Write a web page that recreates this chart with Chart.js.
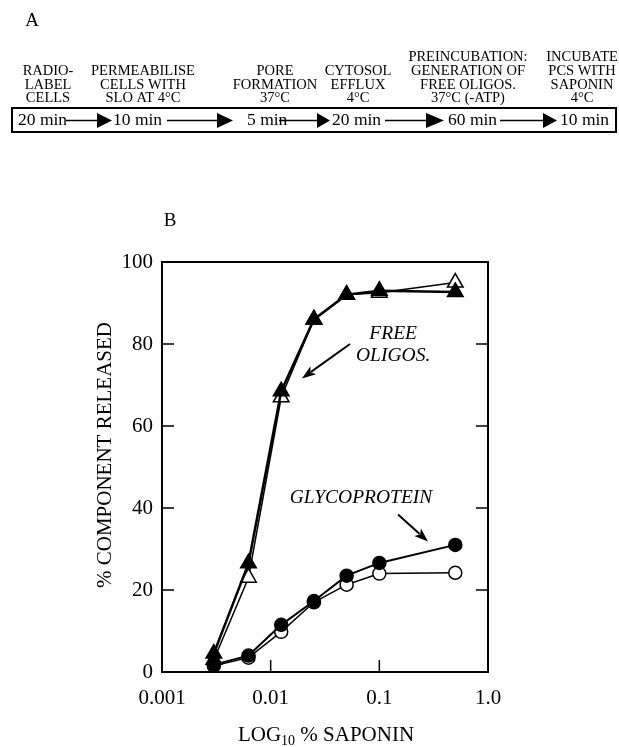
<!DOCTYPE html>
<html>
<head>
<meta charset="utf-8">
<script src="https://cdn.jsdelivr.net/npm/chart.js@4.4.1/dist/chart.umd.min.js"></script>
<style>
html, body { margin: 0; padding: 0; background: #fff; }
canvas { display: block; }
</style>
</head>
<body>
<canvas id="plot" width="619" height="747"></canvas>
<script>
// saponin concentration (%), x axis is log scale
const saponin = [0.003, 0.00625, 0.0125, 0.025, 0.05, 0.1, 0.5];
const oligosFilled = [4.5, 26.5, 68.5, 86, 92, 93, 92.7];
const oligosOpen = [3, 23, 67, 86, 92, 92.5, 95];
const glycoFilled = [1.8, 4, 11.5, 17.3, 23.5, 26.6, 31];
const glycoOpen = [1.5, 3.5, 9.8, 17, 21.3, 24, 24.2];
const xTickValues = [0.001, 0.01, 0.1, 1];
const xTickLabels = ['0.001', '0.01', '0.1', '1.0'];

// panel A protocol steps
const stepHeads = [
    ['RADIO-', 'LABEL', 'CELLS'],
    ['PERMEABILISE', 'CELLS WITH', 'SLO AT 4\u00B0C'],
    ['PORE', 'FORMATION', '37\u00B0C'],
    ['CYTOSOL', 'EFFLUX', '4\u00B0C'],
    ['PREINCUBATION:', 'GENERATION OF', 'FREE OLIGOS.', '37\u00B0C (-ATP)'],
    ['INCUBATE', 'PCS WITH', 'SAPONIN', '4\u00B0C']
];
const stepTimes = ['20 min', '10 min', '5 min', '20 min', '60 min', '10 min'];

const serif = '"Liberation Serif", "Times New Roman", serif';

const pts = (ys) => saponin.map((x, i) => ({ x: x, y: ys[i] }));

function arrow(ctx, x1, y1, x2, y2, len, w) {
    const a = Math.atan2(y2 - y1, x2 - x1);
    ctx.beginPath();
    ctx.moveTo(x1, y1);
    ctx.lineTo(x2 - Math.cos(a) * len * 0.8, y2 - Math.sin(a) * len * 0.8);
    ctx.stroke();
    ctx.beginPath();
    ctx.moveTo(x2, y2);
    ctx.lineTo(x2 - Math.cos(a) * len - Math.sin(a) * w, y2 - Math.sin(a) * len + Math.cos(a) * w);
    ctx.lineTo(x2 - Math.cos(a) * len * 0.75, y2 - Math.sin(a) * len * 0.75);
    ctx.lineTo(x2 - Math.cos(a) * len + Math.sin(a) * w, y2 - Math.sin(a) * len - Math.cos(a) * w);
    ctx.closePath();
    ctx.fill();
}

const panelA = {
    id: 'panelA',
    afterDraw(chart) {
        const ctx = chart.ctx;
        ctx.save();
        ctx.fillStyle = '#000';
        ctx.strokeStyle = '#000';
        ctx.textAlign = 'center';
        ctx.textBaseline = 'middle';
        ctx.font = '19px ' + serif;
        ctx.fillText('A', 32, 21);

        const centers = [48, 143, 275, 358, 468, 582];
        ctx.font = '14.5px ' + serif;
        stepHeads.forEach((lines, i) => {
            const rowY = [98.5, 84.7, 71, 57];
            lines.slice().reverse().forEach((t, j) => ctx.fillText(t, centers[i], rowY[j]));
        });

        ctx.lineWidth = 2;
        ctx.strokeRect(12, 108, 604, 24);

        const starts = [18, 113, 247, 332, 448, 560];
        ctx.textAlign = 'left';
        ctx.font = '17.5px ' + serif;
        stepTimes.forEach((t, i) => ctx.fillText(t, starts[i], 120));

        const arrows = [[66, 97, 112], [167, 217, 233], [279, 317, 330], [385, 426, 444], [500, 543, 557]];
        ctx.lineWidth = 1.5;
        arrows.forEach(a => {
            ctx.beginPath();
            ctx.moveTo(a[0], 120.5);
            ctx.lineTo(a[1] + 1, 120.5);
            ctx.stroke();
            ctx.beginPath();
            ctx.moveTo(a[1], 113);
            ctx.lineTo(a[2], 120.5);
            ctx.lineTo(a[1], 128);
            ctx.closePath();
            ctx.fill();
        });
        ctx.restore();
    }
};

const frame = {
    id: 'frame',
    afterDraw(chart) {
        const ctx = chart.ctx;
        const area = chart.chartArea;
        const xs = chart.scales.x, ys = chart.scales.y;
        ctx.save();
        ctx.strokeStyle = '#000';
        ctx.fillStyle = '#000';
        ctx.lineWidth = 2;
        ctx.strokeRect(area.left, area.top, area.right - area.left, area.bottom - area.top);

        ctx.lineWidth = 1.5;
        ys.ticks.forEach(t => {
            if (t.value <= ys.min || t.value >= ys.max) return;
            const py = ys.getPixelForValue(t.value);
            ctx.beginPath();
            ctx.moveTo(area.left, py); ctx.lineTo(area.left + 12, py);
            ctx.moveTo(area.right, py); ctx.lineTo(area.right - 12, py);
            ctx.stroke();
        });
        xs.ticks.forEach(t => {
            if (t.value <= xs.min || t.value >= xs.max) return;
            const px = xs.getPixelForValue(t.value);
            ctx.beginPath();
            ctx.moveTo(px, area.bottom); ctx.lineTo(px, area.bottom - 12);
            ctx.stroke();
        });

        // annotations, placed in data units
        ctx.font = 'italic 19.5px ' + serif;
        ctx.textAlign = 'center';
        ctx.textBaseline = 'middle';
        ctx.fillText('FREE', xs.getPixelForValue(0.134), ys.getPixelForValue(82.4));
        ctx.fillText('OLIGOS.', xs.getPixelForValue(0.134), ys.getPixelForValue(77));
        ctx.fillText('GLYCOPROTEIN', xs.getPixelForValue(0.0678), ys.getPixelForValue(42.5));
        ctx.lineWidth = 2;
        arrow(ctx, xs.getPixelForValue(0.0537), ys.getPixelForValue(80),
            xs.getPixelForValue(0.0194), ys.getPixelForValue(71.6), 14, 5);
        arrow(ctx, xs.getPixelForValue(0.1486), ys.getPixelForValue(38.4),
            xs.getPixelForValue(0.2805), ys.getPixelForValue(31.8), 14, 5);

        // panel letter and axis titles
        ctx.font = '19px ' + serif;
        ctx.fillText('B', 170, 221);

        ctx.save();
        ctx.translate(105, 455);
        ctx.rotate(-Math.PI / 2);
        ctx.font = '21px ' + serif;
        ctx.fillText('% COMPONENT RELEASED', 0, 0);
        ctx.restore();

        const big = '21px ' + serif, small = '14px ' + serif;
        ctx.font = big;
        const w1 = ctx.measureText('LOG').width;
        const w3 = ctx.measureText(' % SAPONIN').width;
        ctx.font = small;
        const w2 = ctx.measureText('10').width;
        let x0 = 326 - (w1 + w2 + w3) / 2;
        ctx.textAlign = 'left';
        ctx.font = big;
        ctx.fillText('LOG', x0, 735);
        ctx.font = small;
        ctx.fillText('10', x0 + w1, 741);
        ctx.font = big;
        ctx.fillText(' % SAPONIN', x0 + w1 + w2, 735);
        ctx.restore();
    }
};

const tickFont = { family: serif, size: 21 };

const canvas = document.getElementById('plot');
const ctx = canvas.getContext('2d');

const config = {
    type: 'line',
    data: {
        datasets: [
            {
                label: 'free oligos (filled)', data: pts(oligosFilled),
                borderColor: '#000', backgroundColor: '#000', borderWidth: 2.5,
                pointStyle: 'triangle', pointRadius: 9, pointBorderWidth: 1.5,
                pointBackgroundColor: '#000', pointBorderColor: '#000'
            },
            {
                label: 'glycoprotein (filled)', data: pts(glycoFilled),
                borderColor: '#000', backgroundColor: '#000', borderWidth: 2,
                pointStyle: 'circle', pointRadius: 6.5, pointBorderWidth: 1.5,
                pointBackgroundColor: '#000', pointBorderColor: '#000'
            },
            {
                label: 'free oligos (open)', data: pts(oligosOpen),
                borderColor: '#000', backgroundColor: '#fff', borderWidth: 1.5,
                pointStyle: 'triangle', pointRadius: 9, pointBorderWidth: 1.5,
                pointBackgroundColor: '#fff', pointBorderColor: '#000'
            },
            {
                label: 'glycoprotein (open)', data: pts(glycoOpen),
                borderColor: '#000', backgroundColor: '#fff', borderWidth: 1.5,
                pointStyle: 'circle', pointRadius: 6.5, pointBorderWidth: 1.5,
                pointBackgroundColor: '#fff', pointBorderColor: '#000'
            }
        ]
    },
    options: {
        responsive: false,
        animation: false,
        layout: { padding: { left: 0, right: 131, top: 262, bottom: 0 } },
        elements: { line: { tension: 0 } },
        plugins: { legend: { display: false }, tooltip: { enabled: false } },
        scales: {
            x: {
                type: 'logarithmic', min: 0.001, max: 1,
                afterBuildTicks: (scale) => { scale.ticks = xTickValues.map(v => ({ value: v })); },
                afterFit: (scale) => { scale.height = 75; },
                ticks: {
                    font: tickFont, color: '#000', padding: 14, maxRotation: 0, autoSkip: false,
                    callback: (v, i) => xTickLabels[i]
                },
                grid: { display: false, drawTicks: false },
                border: { display: false }
            },
            y: {
                min: 0, max: 100,
                afterFit: (scale) => { scale.width = 162; },
                ticks: { stepSize: 20, font: tickFont, color: '#000', padding: 9 },
                grid: { display: false, drawTicks: false },
                border: { display: false }
            }
        }
    },
    plugins: [panelA, frame]
};

const myChart = new Chart(ctx, config);
</script>
</body>
</html>
